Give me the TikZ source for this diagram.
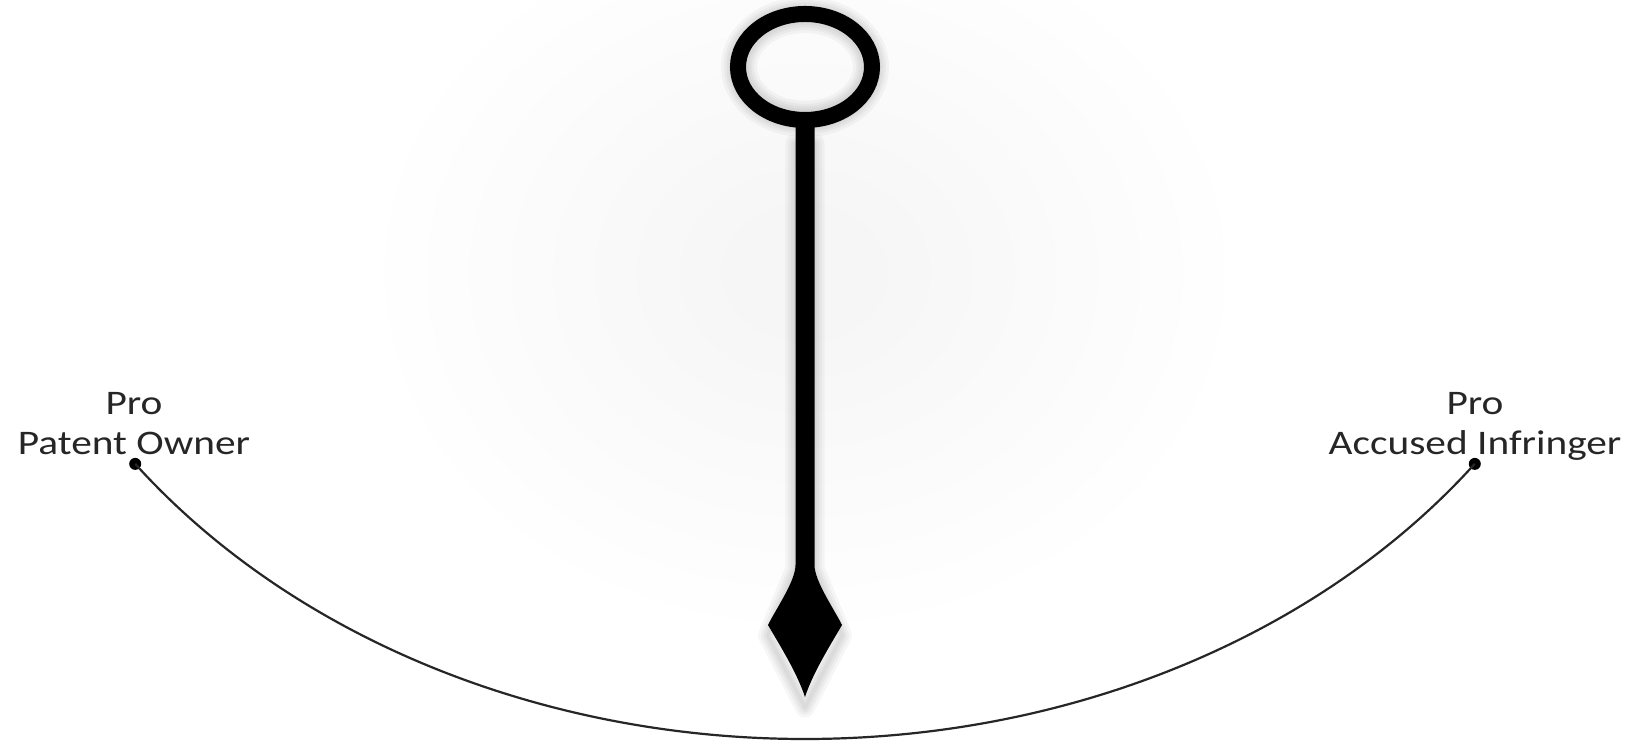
\documentclass[tikz,border=0pt]{standalone}
\usepackage{fontspec}
\setmainfont{Carlito}
\usepackage{xcolor}
\usepackage{tikz}
\usetikzlibrary{arrows.meta}

\begin{document}
\begin{tikzpicture}[
  x=0.01cm, y=0.01cm,
  lbl/.style   = {font=\fontsize{9.8pt}{11.6pt}\selectfont, text=black!85,
                  inner sep=0pt, anchor=base, xscale=1.2},
  dot/.style   = {circle, fill=black, inner sep=0pt, minimum size=0.12cm},
  scale line/.style = {draw=black!85, line width=0.022cm},
  ring/.style  = {draw=black, line width=0.16cm},
  needle/.style = {fill=black},
  halo/.style  = {draw=black, opacity=0.035},
  glow/.style  = {fill=black, opacity=0.0035},
]

%% ── Canvas ──────────────────────────────────────────────────────────────────
\useasboundingbox[fill=white] (0,0) rectangle (1638,743);
\foreach \r in {1.0,0.9,...,0.1}
  \fill[glow] (805,470) ellipse [x radius=\r*420, y radius=\r*350];

%% ── Pivot and end points ────────────────────────────────────────────────────
\coordinate (pivot) at (805,676);
\node[dot] (dotL) at ( 135.2,279.1) {};
\node[dot] (dotR) at (1474.8,279.1) {};

%% ── Scale arc ───────────────────────────────────────────────────────────────
\draw[scale line] (dotL.center)
  arc [start angle=-143.8, end angle=-36.2, x radius=830, y radius=672];

%% ── Soft shadow of the needle ───────────────────────────────────────────────
\foreach \w in {0.20,0.25,0.30,0.36} {
  \draw[halo, line width=\w cm, yshift=-3]
    (pivot) ellipse [x radius=66, y radius=52];
  \draw[halo, line width=\w cm-0.16cm, yshift=-3, line join=round]
    (795.5,610) -- (795.5,185) -- (768,118) -- (805,46)
    -- (842,118) -- (814.5,185) -- (814.5,610) -- cycle;
}

%% ── Needle ──────────────────────────────────────────────────────────────────
\fill[needle] (795.5,624) -- (795.5,178)
  .. controls (795.5,162) and (776,134) .. (768,118)
  .. controls (782,94) and (797,70) .. (805,46)
  .. controls (813,70) and (828,94) .. (842,118)
  .. controls (834,134) and (814.5,162) .. (814.5,178)
  -- (814.5,624) -- cycle;
\draw[ring] (pivot) ellipse [x radius=67, y radius=53];

%% ── Labels ──────────────────────────────────────────────────────────────────
\node[lbl] (proL)   at ( 134,328) {Pro};
\node[lbl] (ownerL) at ( 134,288) {Patent Owner};
\node[lbl] (proR)   at (1475,328) {Pro};
\node[lbl] (ownerR) at (1475,288) {Accused Infringer};

\end{tikzpicture}
\end{document}
